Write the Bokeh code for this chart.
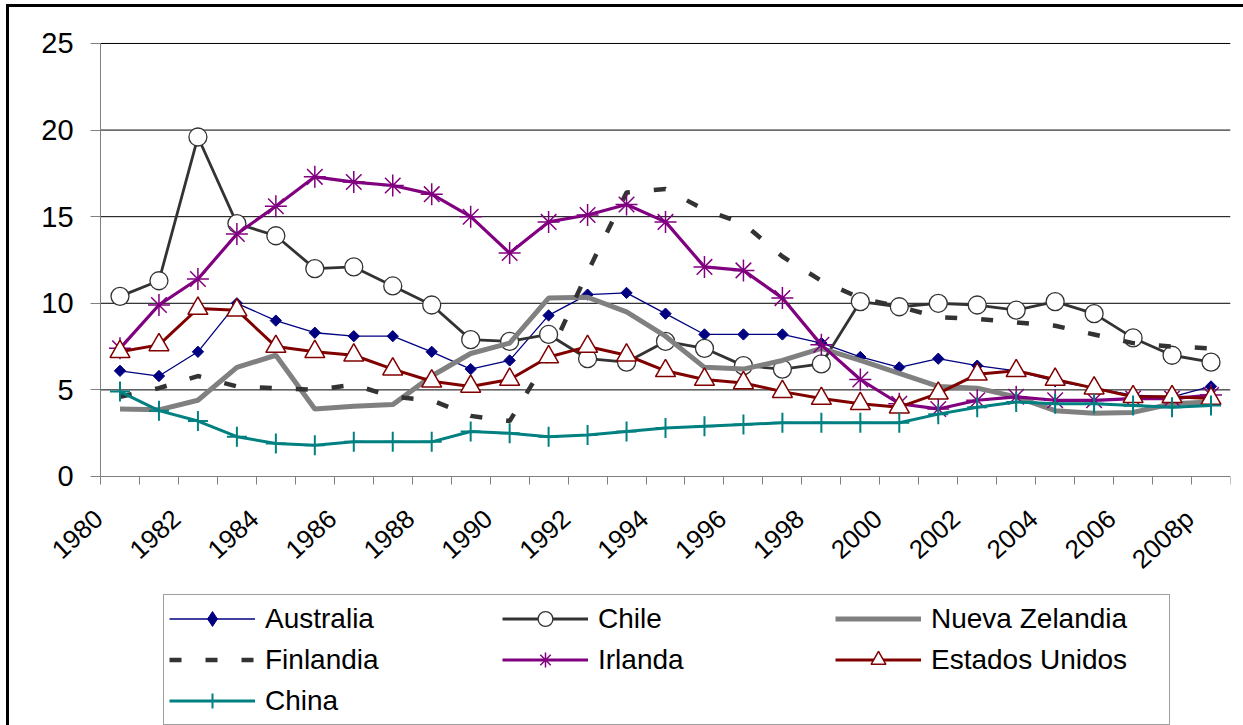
from math import pi
from bokeh.plotting import figure
from bokeh.models import FixedTicker, Legend, LegendItem
from bokeh.embed import file_html
from bokeh.resources import INLINE

years = [str(y) for y in range(1980, 2008)] + ["2008p"]

australia = [6.1, 5.8, 7.2, 10.0, 9.0, 8.3, 8.1, 8.1, 7.2, 6.2, 6.7, 9.3, 10.5, 10.6, 9.4,
             8.2, 8.2, 8.2, 7.7, 6.9, 6.3, 6.8, 6.4, 6.1, 5.5, 5.1, 4.7, 4.6, 5.2]
chile = [10.4, 11.3, 19.6, 14.6, 13.9, 12.0, 12.1, 11.0, 9.9, 7.9, 7.8, 8.2, 6.8, 6.6, 7.8,
         7.4, 6.4, 6.2, 6.5, 10.1, 9.8, 10.0, 9.9, 9.6, 10.1, 9.4, 8.0, 7.0, 6.6]
nueva_zelandia = [3.9, 3.85, 4.4, 6.3, 7.0, 3.9, 4.05, 4.15, 5.8, 7.1, 7.7, 10.3, 10.35, 9.5, 8.1,
                  6.3, 6.2, 6.7, 7.4, 6.7, 5.95, 5.2, 5.1, 4.6, 3.8, 3.65, 3.7, 4.2, 4.3]
finlandia = [4.6, 5.1, 5.8, 5.2, 5.1, 5.0, 5.3, 4.6, 4.4, 3.5, 3.2, 6.9, 11.8, 16.4, 16.6,
             15.4, 14.6, 12.7, 11.3, 10.3, 9.8, 9.2, 9.1, 8.9, 8.7, 8.2, 7.7, 7.5, 7.4]
irlanda = [7.4, 9.9, 11.4, 14.0, 15.6, 17.3, 17.0, 16.8, 16.3, 15.0, 12.9, 14.7, 15.1, 15.7, 14.7,
           12.1, 11.9, 10.3, 7.6, 5.6, 4.2, 3.9, 4.4, 4.6, 4.4, 4.4, 4.5, 4.5, 4.7]
estados_unidos = [7.2, 7.6, 9.7, 9.6, 7.5, 7.2, 7.0, 6.2, 5.5, 5.2, 5.6, 6.9, 7.5, 7.0, 6.1,
                  5.6, 5.4, 4.9, 4.5, 4.2, 4.0, 4.8, 5.9, 6.1, 5.6, 5.1, 4.6, 4.6, 4.5]
china = [4.9, 3.8, 3.2, 2.3, 1.9, 1.8, 2.0, 2.0, 2.0, 2.6, 2.5, 2.3, 2.4, 2.6, 2.8,
         2.9, 3.0, 3.1, 3.1, 3.1, 3.1, 3.6, 4.0, 4.3, 4.2, 4.2, 4.1, 4.0, 4.1]
y_ticks = [0, 5, 10, 15, 20, 25]

FONT = "Liberation Sans"
n = len(years)
xs = [i + 0.5 for i in range(n)]

# the frame extends beyond the data area on every side so that the axes
# (drawn at 0) and the legend all live inside it
p = figure(width=1237, height=721, x_range=(-2.31, n), y_range=(-14.55, 26.5),
           output_backend="svg", toolbar_location=None,
           min_border_left=1, min_border_right=16, min_border_top=10, min_border_bottom=0)
p.styles = {"border-top": "3px solid black", "border-left": "3px solid black",
            "margin-left": "6px", "margin-top": "4px"}
p.outline_line_color = None
p.background_fill_color = "white"
p.border_fill_color = "white"

# horizontal gridlines spanning the category area only
p.xgrid.visible = False
p.ygrid.visible = False
grid_y = [t for t in y_ticks if t > 0]
p.segment(x0=[0] * len(grid_y), x1=[n] * len(grid_y), y0=grid_y, y1=grid_y,
          line_color="black", line_width=1)

# y axis at x=0
p.yaxis.fixed_location = 0
p.yaxis.ticker = FixedTicker(ticks=y_ticks)
p.yaxis.bounds = (0, 25)
p.yaxis.axis_line_color = "#808080"
p.yaxis.major_tick_line_color = "#808080"
p.yaxis.major_tick_out = 10
p.yaxis.major_tick_in = 0
p.yaxis.minor_tick_line_color = None
p.yaxis.major_label_text_font = FONT
p.yaxis.major_label_text_font_size = "29px"
p.yaxis.major_label_text_color = "black"
p.yaxis.major_label_standoff = 17

# x axis at y=0: ticks at category boundaries, labels at every second category
label_pos = [xs[i] - 0.55 for i in range(0, n, 2)]
p.xaxis.fixed_location = 0
p.xaxis.bounds = (0, n)
p.xaxis.ticker = FixedTicker(ticks=label_pos, minor_ticks=list(range(n + 1)))
p.xaxis.major_label_overrides = {label_pos[k]: years[2 * k] for k in range(len(label_pos))}
p.xaxis.axis_line_color = "#808080"
p.xaxis.major_tick_out = 0
p.xaxis.major_tick_in = 0
p.xaxis.minor_tick_out = 8
p.xaxis.minor_tick_in = 0
p.xaxis.minor_tick_line_color = "#808080"
p.xaxis.major_label_orientation = 0.74
p.xaxis.major_label_text_font = FONT
p.xaxis.major_label_text_font_size = "26px"
p.xaxis.major_label_text_color = "black"
p.xaxis.major_label_standoff = 30

items = []

# Australia
l1 = p.line(xs, australia, line_color="#000080", line_width=1.3)
m1 = p.scatter(xs, australia, marker="square", angle=pi / 4, size=8,
               fill_color="#000080", line_color="#000080")
# legend-only diamond key (a single undrawable NaN point; the legend does not rotate markers)
m1_key = p.scatter(x=xs[:1], y=[float("nan")], marker="diamond",
                   fill_color="#000080", line_color="#000080")
items.append(LegendItem(label="Australia", renderers=[l1, m1_key]))

# Chile
l2 = p.line(xs, chile, line_color="#333333", line_width=2.8)
m2 = p.scatter(xs, chile, marker="circle", size=18, fill_color="white",
               line_color="#333333", line_width=1.3)
items.append(LegendItem(label="Chile", renderers=[l2, m2]))

# Nueva Zelandia
l3 = p.line(xs, nueva_zelandia, line_color="#808080", line_width=5)
items.append(LegendItem(label="Nueva Zelandia", renderers=[l3]))

# Finlandia
l4 = p.line(xs, finlandia, line_color="#333333", line_width=4.5, line_dash="12 24")
items.append(LegendItem(label="Finlandia", renderers=[l4]))

# Irlanda
l5 = p.line(xs, irlanda, line_color="#800080", line_width=3.2)
m5 = p.scatter(xs, irlanda, marker="asterisk", size=22, line_color="#800080", line_width=1.5)
items.append(LegendItem(label="Irlanda", renderers=[l5, m5]))

# Estados Unidos
l6 = p.line(xs, estados_unidos, line_color="#800000", line_width=3)
m6 = p.scatter(xs, estados_unidos, marker="triangle", size=20, fill_color="white",
               line_color="#800000", line_width=1.5)
items.append(LegendItem(label="Estados Unidos", renderers=[l6, m6]))

# China
l7 = p.line(xs, china, line_color="#008080", line_width=3)
m7 = p.scatter(xs, china, marker="cross", size=20, line_color="#008080", line_width=2)
items.append(LegendItem(label="China", renderers=[l7, m7]))

legend = Legend(items=items, location=(153, 3), orientation="horizontal", ncols=3,
                border_line_color="#404040", border_line_width=1.3,
                background_fill_color="white", background_fill_alpha=1,
                padding=5, margin=0, spacing=4, label_standoff=10,
                glyph_width=86, glyph_height=37, label_width=233, label_height=37,
                label_text_font=FONT, label_text_font_size="28px", label_text_color="black")
p.add_layout(legend)

open("out.html", "w").write(file_html(p, INLINE))
